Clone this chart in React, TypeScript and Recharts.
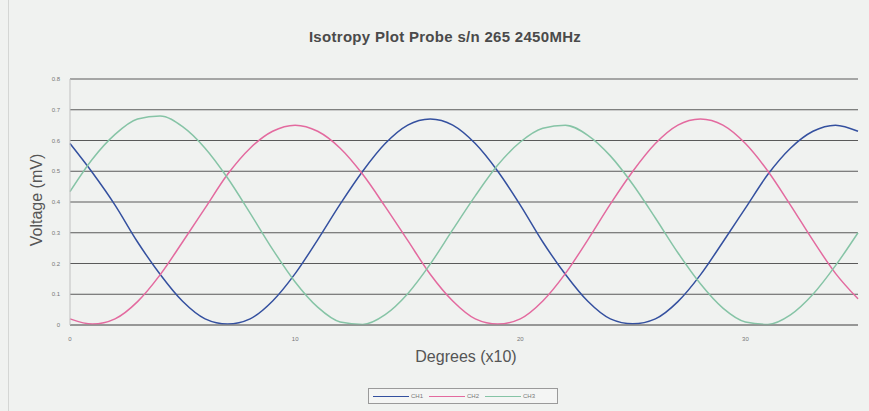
import React from 'react';
import { LineChart, Line, XAxis, YAxis, CartesianGrid } from 'recharts';

const degrees = [0, 1, 2, 3, 4, 5, 6, 7, 8, 9, 10, 11, 12, 13, 14, 15, 16, 17, 18, 19, 20, 21, 22, 23, 24, 25, 26, 27, 28, 29, 30, 31, 32, 33, 34, 35];
const ch1 = [0.59, 0.495, 0.39, 0.27, 0.165, 0.077, 0.02, 0.003, 0.02, 0.078, 0.167, 0.277, 0.393, 0.5, 0.59, 0.65, 0.67, 0.65, 0.59, 0.5, 0.39, 0.27, 0.165, 0.077, 0.02, 0.004, 0.02, 0.076, 0.163, 0.27, 0.38, 0.49, 0.575, 0.63, 0.65, 0.63];
const ch2 = [0.02, 0.003, 0.02, 0.076, 0.163, 0.27, 0.38, 0.49, 0.575, 0.63, 0.65, 0.63, 0.575, 0.49, 0.385, 0.275, 0.165, 0.078, 0.02, 0.003, 0.02, 0.078, 0.167, 0.277, 0.393, 0.5, 0.59, 0.65, 0.67, 0.65, 0.59, 0.5, 0.39, 0.275, 0.168, 0.085];
const ch3 = [0.434, 0.54, 0.62, 0.67, 0.68, 0.645, 0.575, 0.478, 0.364, 0.246, 0.14, 0.058, 0.01, 0.002, 0.034, 0.102, 0.198, 0.31, 0.42, 0.52, 0.595, 0.64, 0.65, 0.617, 0.55, 0.457, 0.348, 0.235, 0.134, 0.055, 0.01, 0.002, 0.033, 0.1, 0.193, 0.3];
const xTicks = [0, 10, 20, 30];
const yTicks = [0, 0.1, 0.2, 0.3, 0.4, 0.5, 0.6, 0.7, 0.8];
const seriesNames = ['CH1', 'CH2', 'CH3'];
const seriesColors = ['#34509f', '#e36a9f', '#86c4a6'];

const data = degrees.map((d, i) => ({ deg: d, CH1: ch1[i], CH2: ch2[i], CH3: ch3[i] }));

const LegendBox = () => (
  <div style={{ position: 'absolute', left: 368, top: 388, width: 190, height: 16, border: '1px solid #9a9a9a', background: '#f4f5f4', display: 'flex', alignItems: 'center', boxSizing: 'border-box', paddingLeft: 4 }}>
    {seriesNames.map((n, i) => (
      <div key={n} style={{ display: 'flex', alignItems: 'center', marginRight: 6 }}>
        <div style={{ width: 36, height: 0, borderTop: `1.5px solid ${seriesColors[i]}` }} />
        <span style={{ fontSize: 6, color: '#777', marginLeft: 2 }}>{n}</span>
      </div>
    ))}
  </div>
);

export default function App() {
  return (
    <div style={{ position: 'absolute', left: 0, top: 0, width: 869, height: 411, background: '#f0f2f0', overflow: 'hidden', fontFamily: 'Liberation Sans, Arial, sans-serif' }}>
      <div style={{ position: 'absolute', left: 8, top: 0, width: 1, height: 411, background: '#d4d6d4' }} />
      <div style={{ position: 'absolute', left: 0, top: 28, width: 890, textAlign: 'center', fontSize: 15, letterSpacing: 0.3, fontWeight: 'bold', color: '#4a4a4a' }}>
        Isotropy Plot Probe s/n 265 2450MHz
      </div>
      <div style={{ position: 'absolute', left: 37, top: 200, transform: 'translate(-50%, -50%) rotate(-90deg)', fontSize: 16, color: '#555', whiteSpace: 'nowrap' }}>
        Voltage (mV)
      </div>
      <div style={{ position: 'absolute', left: 466, top: 357, transform: 'translate(-50%, -50%)', fontSize: 16, color: '#555', whiteSpace: 'nowrap' }}>
        Degrees (x10)
      </div>
      <LineChart width={869} height={411} data={data} margin={{ top: 79, right: 11, left: 50, bottom: 66 }}>
        <CartesianGrid vertical={false} stroke="#5a5a5a" strokeWidth={1} />
        <XAxis dataKey="deg" type="category" ticks={xTicks} interval={0} tickLine={false} axisLine={{ stroke: '#888' }} tick={{ fontSize: 6, fill: '#777', dy: 4 }} height={20} />
        <YAxis domain={[0, 0.8]} ticks={yTicks} tickLine={false} axisLine={{ stroke: '#c0c0c0' }} tick={{ fontSize: 6, fill: '#777', dx: -2 }} width={20} />
        {seriesNames.map((n, i) => (
          <Line key={n} type="monotone" dataKey={n} stroke={seriesColors[i]} strokeWidth={1.5} dot={false} isAnimationActive={false} />
        ))}
      </LineChart>
      <LegendBox />
    </div>
  );
}
